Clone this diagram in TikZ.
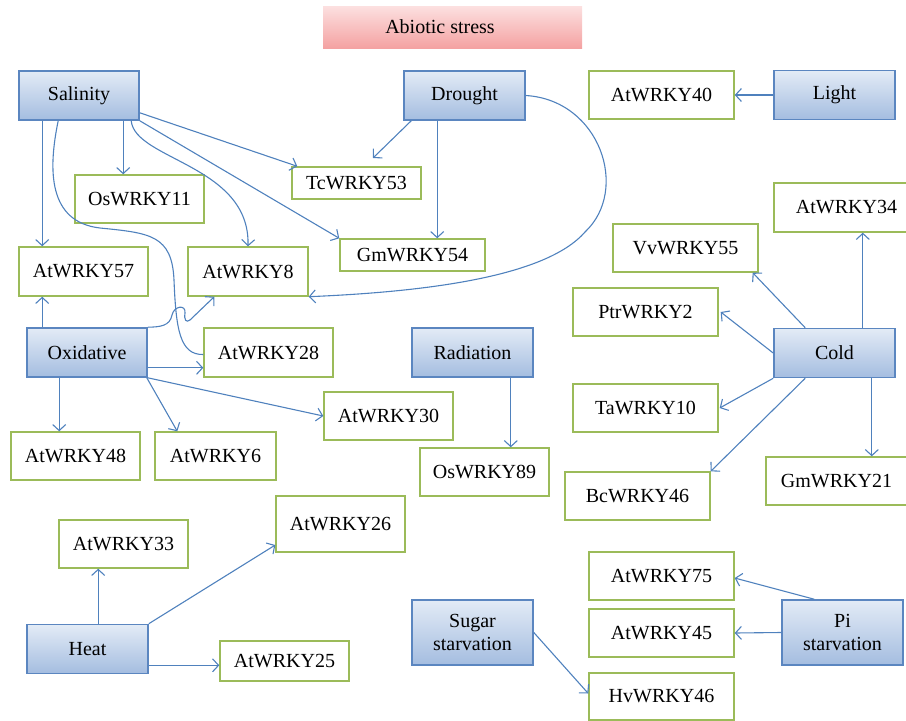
\documentclass[tikz,border=0pt]{standalone}
\usepackage{fontspec}
\setmainfont{Liberation Serif}
\usetikzlibrary{arrows.meta,calc}
\definecolor{linecol}{HTML}{4F81BD}
\definecolor{bluetop}{HTML}{E3EBF6}
\definecolor{bluebot}{HTML}{A4BDE0}
\definecolor{blueedge}{HTML}{5B86C0}
\definecolor{greenedge}{HTML}{9BBB59}
\definecolor{pinktop}{HTML}{FCE0E0}
\definecolor{pinkbot}{HTML}{F4A2A2}
\begin{document}
\begin{tikzpicture}[x=1pt,y=-1pt,
  every node/.style={font=\fontsize{20}{23}\selectfont, inner sep=0pt},
  cause/.style={draw=blueedge, line width=1.6pt, top color=bluetop, bottom color=bluebot, minimum width=121pt, minimum height=49pt, align=center},
  gene/.style={draw=greenedge, line width=1.4pt, fill=white, minimum width=129pt, minimum height=48pt},
  arr/.style={draw=linecol, line width=1.1pt, -{Straight Barb[length=6pt,width=13pt]}},
  link/.style={draw=linecol, line width=1.1pt},
]
\useasboundingbox (0,0) rectangle (906,721);
\clip (0,0) rectangle (906,721);

% title
\shade[top color=pinktop, bottom color=pinkbot] (323,6) rectangle (582,48);
\node (title) at (440,27) {Abiotic stress};

% stress nodes
\node[cause, minimum width=120pt] (sal) at (79,95.5) {Salinity};
\node[cause] (dr) at (464.5,95.5) {Drought};
\node[cause] (lt) at (834.5,95) {Light};
\node[cause, minimum width=120pt] (ox) at (87,352.5) {Oxidative};
\node[cause] (rad) at (472.5,352.5) {Radiation};
\node[cause] (cold) at (834.5,353) {Cold};
\node[cause] (heat) at (87.5,649) {Heat};
\node[cause, minimum height=65pt] (sug) at (472.5,632.5) {Sugar\\starvation};
\node[cause, minimum height=65pt] (pi) at (842.5,632.5) {Pi\\starvation};

% gene nodes
\node[gene, minimum width=145pt] (a40) at (661.5,95) {AtWRKY40};
\node[gene] (os11) at (139.5,199) {OsWRKY11};
\node[gene, minimum height=32pt] (tc53) at (356.5,183) {TcWRKY53};
\node[gene, minimum width=145pt, minimum height=32pt] (gm54) at (412.5,255) {GmWRKY54};
\node[gene, minimum height=49pt] (a57) at (83.5,271.5) {AtWRKY57};
\node[gene, minimum width=120pt, minimum height=49pt] (a8) at (248,271.5) {AtWRKY8};
\node[gene, minimum height=49pt] (a28) at (268.5,352.5) {AtWRKY28};
\node[gene, minimum width=145pt, minimum height=49pt] (a34) at (846.5,207.5) {AtWRKY34};
\node[gene, minimum width=145pt] (vv55) at (685.5,248) {VvWRKY55};
\node[gene, minimum width=145pt] (ptr2) at (645.5,312) {PtrWRKY2};
\node[gene, minimum width=145pt] (ta10) at (645.5,408) {TaWRKY10};
\node[gene, minimum width=145pt] (bc46) at (637.5,496) {BcWRKY46};
\node[gene, minimum width=141pt] (gm21) at (836.5,481) {GmWRKY21};
\node[gene] (a30) at (388.5,416) {AtWRKY30};
\node[gene] (os89) at (484.5,472) {OsWRKY89};
\node[gene] (a48) at (75.5,456) {AtWRKY48};
\node[gene, minimum width=121pt] (a6) at (215.5,456) {AtWRKY6};
\node[gene] (a33) at (123.5,544) {AtWRKY33};
\node[gene, minimum height=56pt] (a26) at (340.5,524) {AtWRKY26};
\node[gene, minimum height=40pt] (a25) at (284.5,661) {AtWRKY25};
\node[gene, minimum width=145pt] (a75) at (661.5,576) {AtWRKY75};
\node[gene, minimum width=145pt] (a45) at (661.5,633) {AtWRKY45};
\node[gene, minimum width=145pt, minimum height=47pt] (hv46) at (661.5,696.5) {HvWRKY46};

% Salinity
\coordinate (s1) at ([xshift=24pt]sal.south west);
\draw[arr] (s1) -- (s1 |- a57.north);
\coordinate (s2) at ([xshift=105pt]sal.south west);
\draw[arr] (s2) -- (s2 |- os11.north);
\draw[arr] ([yshift=8pt]sal.south east) -- ([xshift=6pt]tc53.north west);
\draw[arr] (sal.south east) -- (gm54.north west);
\draw[arr] ([xshift=113pt]sal.south west) .. controls (135,160) and (250,165) .. (a8.north);
\coordinate (sk1) at (100,228);
\coordinate (sk2) at (174,280);
\draw[link] ([xshift=40pt]sal.south west) .. controls (48,170) and (48,222) .. (sk1)
  .. controls (150,233) and (172,235) .. (sk2)
  .. controls (176,330) and (180,355) .. ([yshift=-2pt]a28.west);

% Drought
\coordinate (tctip) at (373,158);
\draw[arr] ([xshift=8pt]dr.south west) -- (tctip);
\coordinate (d2) at ([xshift=34pt]dr.south west);
\draw[arr] (d2) -- (d2 |- gm54.north);
\coordinate (dk1) at (585,232);
\draw[arr] (dr.east) .. controls (600,100) and (630,190) .. (dk1)
  .. controls (545,278) and (420,292) .. (a8.south east);

% Light
\draw[arr] (lt.west) -- (a40.east);

% Oxidative
\coordinate (o1) at ([xshift=16pt]ox.north west);
\draw[arr] (o1) -- (o1 |- a57.south);
\draw[arr] (ox.north east) .. controls (160,327) and (170,326) .. (172,315)
  .. controls (174,306) and (186,304) .. (185,313)
  .. controls (184,320) and (186,323) .. (190,320) -- ([xshift=27pt]a8.south west);
\coordinate (o3) at ([yshift=10pt]ox.south east);
\draw[arr] (o3) -- (o3 -| a28.west);
\draw[arr] (ox.south east) -- (a30.west);
\draw[arr] ([xshift=-1pt]ox.south east) -- ([xshift=23pt]a6.north west);
\coordinate (o6) at ([xshift=33pt]ox.south west);
\draw[arr] (o6) -- (o6 |- a48.north);

% Radiation
\coordinate (r1) at ([xshift=-23pt]rad.south east);
\draw[arr] (r1) -- (r1 |- os89.north);

% Cold
\coordinate (c1) at ([xshift=-33pt]cold.north east);
\draw[arr] (c1) -- (c1 |- a34.south);
\draw[arr] ([xshift=32pt]cold.north west) -- ([xshift=-6pt]vv55.south east);
\draw[arr] (cold.west) -- ([xshift=2pt]ptr2.east);
\draw[arr] (cold.south west) -- ([xshift=1pt]ta10.east);
\draw[arr] ([xshift=32pt]cold.south west) -- (bc46.north east);
\coordinate (c6) at ([xshift=-24pt]cold.south east);
\draw[arr] (c6) -- (c6 |- gm21.north);

% Heat
\coordinate (h1) at ([xshift=72pt]heat.north west);
\draw[arr] (h1) -- (h1 |- a33.south);
\draw[arr] (heat.north east) -- ([yshift=-21pt]a26.west);
\coordinate (h3) at ([yshift=9pt]heat.south east);
\draw[arr] (h3) -- (h3 -| a25.west);

% Sugar starvation
\draw[arr] (sug.east) -- ([yshift=3pt]hv46.west);

% Pi starvation
\draw[arr] ([xshift=33pt]pi.north west) -- ([yshift=-2pt]a75.east);
\draw[arr] (pi.west) -- (a45.east);
\end{tikzpicture}
\end{document}
